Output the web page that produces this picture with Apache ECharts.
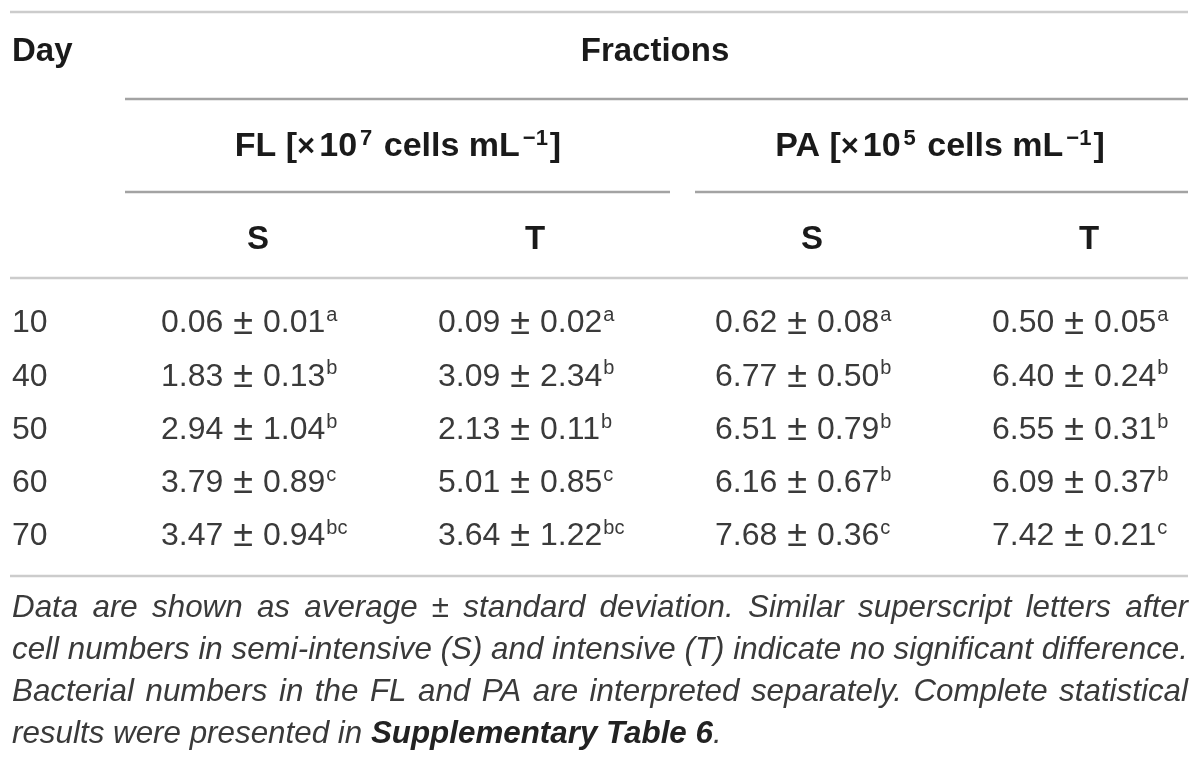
<!DOCTYPE html>
<html>
<head>
<meta charset="utf-8">
<script src="https://cdn.jsdelivr.net/npm/echarts@6/dist/echarts.min.js"></script>
<style>
  html, body { margin: 0; background: #fff; }
  #main { width: 1200px; height: 767px; }
</style>
</head>
<body>
<div id="main"></div>
<script>
// 表格数据
var days = ['10', '40', '50', '60', '70'];
var fractions = ['FL', 'PA'];
var fractionExp = ['7', '5'];
var treatments = ['S', 'T', 'S', 'T'];

var flSMean = [0.06, 1.83, 2.94, 3.79, 3.47];
var flSSd   = [0.01, 0.13, 1.04, 0.89, 0.94];
var flSGrp  = ['a', 'b', 'b', 'c', 'bc'];

var flTMean = [0.09, 3.09, 2.13, 5.01, 3.64];
var flTSd   = [0.02, 2.34, 0.11, 0.85, 1.22];
var flTGrp  = ['a', 'b', 'b', 'c', 'bc'];

var paSMean = [0.62, 6.77, 6.51, 6.16, 7.68];
var paSSd   = [0.08, 0.50, 0.79, 0.67, 0.36];
var paSGrp  = ['a', 'b', 'b', 'b', 'c'];

var paTMean = [0.50, 6.40, 6.55, 6.09, 7.42];
var paTSd   = [0.05, 0.24, 0.31, 0.37, 0.21];
var paTGrp  = ['a', 'b', 'b', 'b', 'c'];

// 脚注: [文字, 粗体, 紧贴前词]
var noteLines = [
  [['Data are shown as average ± standard deviation. Similar superscript letters after', false]],
  [['cell numbers in semi-intensive (S) and intensive (T) indicate no significant difference.', false]],
  [['Bacterial numbers in the FL and PA are interpreted separately. Complete statistical', false]],
  [['results were presented in', false], ['Supplementary Table 6', true], ['.', false, true]]
];

var FONT = '"Liberation Sans", Arial, Helvetica, sans-serif';
var TEXT_COLOR = '#3a3a3a';
var HEAD_COLOR = '#1a1a1a';

// 组装单元格: [列, 行]
var columns = [
  [flSMean, flSSd, flSGrp],
  [flTMean, flTSd, flTGrp],
  [paSMean, paSSd, paSGrp],
  [paTMean, paTSd, paTGrp]
];
var cells = [];
var cellData = [];
for (var c = 0; c < columns.length; c++) {
  for (var r = 0; r < days.length; r++) {
    cells.push({
      mean: columns[c][0][r].toFixed(2),
      sd: columns[c][1][r].toFixed(2),
      grp: columns[c][2][r]
    });
    cellData.push([c, r]);
  }
}

// 脚注: 先按最宽行压缩字形, 再两端对齐
var measureCtx = document.createElement('canvas').getContext('2d');
function noteFont(bold) {
  return 'italic ' + (bold ? 'bold ' : '') + '32px ' + FONT;
}
function textWidth(t, bold) {
  measureCtx.font = noteFont(bold);
  return measureCtx.measureText(t).width;
}

var NOTE_LEFT = 12, NOTE_WIDTH = 1176, NOTE_TOP = 608, NOTE_STEP = 42;
var noteWords = [];
var squeeze = 1;
for (var li = 0; li < noteLines.length; li++) {
  var words = [];
  for (var si = 0; si < noteLines[li].length; si++) {
    var seg = noteLines[li][si];
    var parts = seg[0].split(' ');
    for (var wi = 0; wi < parts.length; wi++) {
      var w = { t: parts[wi], bold: seg[1], glue: seg[2] && wi === 0 };
      w.w = textWidth(w.t, w.bold);
      words.push(w);
    }
  }
  noteWords.push(words);
  if (li < noteLines.length - 1) {
    var natural = 0;
    for (var k = 0; k < words.length; k++) {
      if (k > 0 && !words[k].glue) natural += textWidth(' ', false);
      natural += words[k].w;
    }
    squeeze = Math.min(squeeze, NOTE_WIDTH / natural);
  }
}

var noteGraphics = [];
for (var li2 = 0; li2 < noteWords.length; li2++) {
  var ws = noteWords[li2];
  var justify = li2 < noteWords.length - 1;
  var total = 0, gaps = 0;
  for (var k1 = 0; k1 < ws.length; k1++) {
    total += ws[k1].w * squeeze;
    if (k1 > 0 && !ws[k1].glue) gaps++;
  }
  var spaceW = justify ? (NOTE_WIDTH - total) / gaps : textWidth(' ', false) * squeeze;
  var x = NOTE_LEFT;
  for (var k2 = 0; k2 < ws.length; k2++) {
    if (k2 > 0 && !ws[k2].glue) x += spaceW;
    noteGraphics.push({
      type: 'text',
      x: x,
      y: NOTE_TOP + li2 * NOTE_STEP,
      scaleX: squeeze,
      style: {
        text: ws[k2].t,
        font: noteFont(ws[k2].bold),
        fill: ws[k2].bold ? '#222' : TEXT_COLOR,
        textVerticalAlign: 'middle'
      }
    });
    x += ws[k2].w * squeeze;
  }
}

function hline(x1, x2, y, color) {
  return {
    type: 'line',
    shape: { x1: x1, y1: y, x2: x2, y2: y },
    style: { stroke: color, lineWidth: 2.5 }
  };
}

var hidden = { show: false };

var chart = echarts.init(document.getElementById('main'));

var option = {
  animation: false,
  backgroundColor: '#fff',
  grid: [
    { left: 258, right: 111, top: 297, height: 266 },   // 数据单元格
    { left: 398, width: 542, top: 297, height: 266 }    // FL / PA 表头
  ],
  xAxis: [{
    type: 'category',
    gridIndex: 0,
    data: treatments,
    boundaryGap: false,
    position: 'top',
    axisLine: hidden,
    axisTick: hidden,
    splitLine: hidden,
    axisLabel: {
      interval: 0,
      margin: 57,
      verticalAlign: 'middle',
      fontFamily: FONT,
      fontSize: 33,
      fontWeight: 'bold',
      color: HEAD_COLOR
    }
  }, {
    type: 'category',
    gridIndex: 1,
    data: fractions,
    boundaryGap: false,
    position: 'top',
    axisLine: hidden,
    axisTick: hidden,
    splitLine: hidden,
    axisLabel: {
      interval: 0,
      margin: 150,
      verticalAlign: 'middle',
      color: HEAD_COLOR,
      formatter: function(value, idx) {
        return '{b|' + value + ' [}{x|×}{b|10}{sup|' + fractionExp[idx] + '}{b| cells mL}{sup|−1}{b|]}';
      },
      rich: {
        b: { fontFamily: FONT, fontSize: 34, fontWeight: 'bold', color: HEAD_COLOR, lineHeight: 38 },
        x: { fontFamily: FONT, fontSize: 31, fontWeight: 'bold', color: HEAD_COLOR, padding: [0, 4, 0, 0] },
        sup: { fontFamily: FONT, fontSize: 22, fontWeight: 'bold', color: HEAD_COLOR, verticalAlign: 'top', lineHeight: 21, padding: [0, 2, 0, 3] }
      }
    }
  }],
  yAxis: [{
    type: 'category',
    gridIndex: 0,
    data: days,
    inverse: true,
    axisLine: hidden,
    axisTick: hidden,
    splitLine: hidden,
    axisLabel: {
      align: 'left',
      margin: 246,
      fontFamily: FONT,
      fontSize: 32,
      color: TEXT_COLOR
    }
  }, {
    type: 'category',
    gridIndex: 1,
    data: days,
    show: false
  }],
  series: [{
    type: 'custom',
    xAxisIndex: 0,
    yAxisIndex: 0,
    data: cellData,
    encode: { x: 0, y: 1 },
    silent: true,
    renderItem: function(params, api) {
      var pos = api.coord([api.value(0), api.value(1)]);
      var cell = cells[params.dataIndex];
      return {
        type: 'text',
        x: pos[0] - 97,
        y: pos[1],
        style: {
          text: '{v|' + cell.mean + '}{pm|±}{v|' + cell.sd + '}{s|' + cell.grp + '}',
          textVerticalAlign: 'middle',
          rich: {
            v: { fontFamily: FONT, fontSize: 32, fill: TEXT_COLOR, lineHeight: 36 },
            pm: { fontFamily: FONT, fontSize: 36, fill: TEXT_COLOR, lineHeight: 36, padding: [0, 10, 0, 10] },
            s: { fontFamily: FONT, fontSize: 20, fill: TEXT_COLOR, verticalAlign: 'top', lineHeight: 20, padding: [0, 0, 0, 1] }
          }
        }
      };
    }
  }],
  graphic: [
    hline(10, 1188, 12, '#cccccc'),
    hline(125, 1188, 99, '#a3a3a3'),
    hline(125, 670, 192, '#a3a3a3'),
    hline(695, 1188, 192, '#a3a3a3'),
    hline(10, 1188, 278, '#cccccc'),
    hline(10, 1188, 576, '#cccccc'),
    {
      type: 'text', x: 12, y: 52,
      style: { text: 'Day', font: 'bold 33px ' + FONT, fill: HEAD_COLOR, textVerticalAlign: 'middle' }
    },
    {
      type: 'text', x: 655, y: 52,
      style: { text: 'Fractions', font: 'bold 33px ' + FONT, fill: HEAD_COLOR, textAlign: 'center', textVerticalAlign: 'middle' }
    }
  ].concat(noteGraphics)
};

chart.setOption(option);
</script>
</body>
</html>
